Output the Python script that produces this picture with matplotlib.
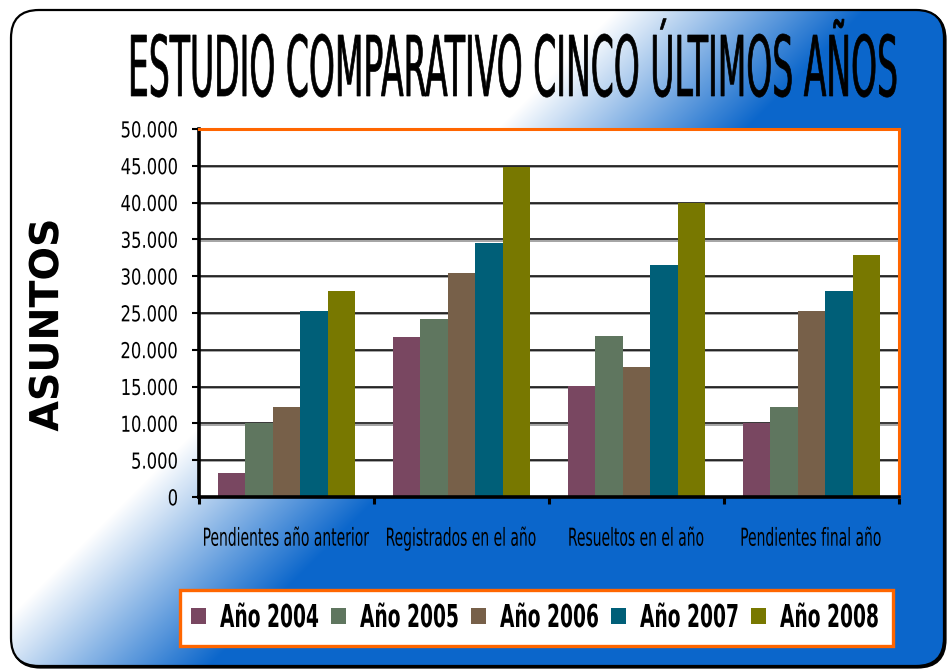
import numpy as np
import matplotlib
matplotlib.use('Agg')
import matplotlib.pyplot as plt
from matplotlib import font_manager
from matplotlib.font_manager import FontProperties
from matplotlib.textpath import TextPath
from matplotlib.transforms import Affine2D
from matplotlib.patches import FancyBboxPatch, Rectangle
from matplotlib.patheffects import AbstractPathEffect, SimpleLineShadow, Normal

DPI = 100
W, H = 947, 671

# datos
categories = ['Pendientes año anterior', 'Registrados en el año',
              'Resueltos en el año', 'Pendientes final año']
years = ['Año 2004', 'Año 2005', 'Año 2006', 'Año 2007', 'Año 2008']
v2004 = [3200, 21700, 15100, 10000]
v2005 = [10000, 24200, 21900, 12200]
v2006 = [12200, 30400, 17600, 25250]
v2007 = [25250, 34500, 31500, 27950]
v2008 = [27950, 44900, 40000, 32900]
values = [v2004, v2005, v2006, v2007, v2008]
colors = ['#794761', '#5f765f', '#776049', '#005f78', '#787800']
yticks = [0, 5000, 10000, 15000, 20000, 25000, 30000, 35000, 40000, 45000, 50000]
ylabels = ['0', '5.000', '10.000', '15.000', '20.000', '25.000',
           '30.000', '35.000', '40.000', '45.000', '50.000']
title = 'ESTUDIO COMPARATIVO CINCO ÚLTIMOS AÑOS'
ylabel = 'ASUNTOS'

ORANGE = '#ff6600'
BLUE = np.array([11, 102, 203]) / 255


class StretchY(AbstractPathEffect):
    # letras altas y estrechas: estira el glifo en vertical alrededor de y0 (en em)
    def __init__(self, sy, y0=0.0, lw=0.0):
        super().__init__()
        self.sy = sy
        self.y0 = y0 * 100   # los paths de texto se generan a tamaño 100
        self.lw = lw

    def draw_path(self, renderer, gc, tpath, affine, rgbFace=None):
        t = Affine2D().translate(0, -self.y0).scale(1, self.sy).translate(0, self.y0)
        gc0 = renderer.new_gc()
        gc0.copy_properties(gc)
        gc0.set_linewidth(self.lw)
        gc0.set_joinstyle('miter')
        renderer.draw_path(gc0, tpath, t + affine, rgbFace)
        gc0.restore()


def fit(s, width_px, cap_px, **font):
    # tamaño para que s mida width_px de ancho, y estiramiento para altura cap_px
    fp = FontProperties(**font)
    w = TextPath((0, 0), s, size=1, prop=fp).get_extents().width
    c = TextPath((0, 0), 'E', size=1, prop=fp).get_extents().height
    em = width_px / w
    return em * 72 / DPI, cap_px / (c * em), c / 2


ttf = font_manager.fontManager.ttflist
if any(f.name == 'Liberation Sans Narrow' for f in ttf):
    narrow = dict(family='Liberation Sans Narrow')
elif any(f.name == 'DejaVu Sans' and f.stretch == 'condensed' for f in ttf):
    narrow = dict(family='DejaVu Sans', stretch='condensed')
else:
    narrow = dict(family='DejaVu Sans')

fig = plt.figure(figsize=(W / DPI, H / DPI), dpi=DPI, facecolor='white')

# fondo: rectangulo redondeado con degradado blanco -> azul
bg = fig.add_axes([0, 0, 1, 1])
bg.set_xlim(0, W)
bg.set_ylim(H, 0)
bg.set_axis_off()
yy, xx = np.mgrid[0:H, 0:W]
mid = 690 - 1.0 * (yy - 60)
t = np.clip((xx - mid) / 250 + 0.5, 0, 1)[..., None]
img = (1 - t) * np.ones(3) + t * BLUE
shadow = FancyBboxPatch((12.5, 11.5), 933, 656, boxstyle='round,pad=0,rounding_size=28',
                        fc='black', ec='black', lw=1.6)
bg.add_patch(shadow)
frame = FancyBboxPatch((11, 10), 933, 656, boxstyle='round,pad=0,rounding_size=28',
                       fc='none', ec='black', lw=1.6, zorder=3)
bg.add_patch(frame)
im = bg.imshow(img, extent=(0, W, H, 0), aspect='auto', zorder=2)
im.set_clip_path(frame)

fs, sy, c2 = fit(title, 765, 61, **narrow)
bg.text(513.5, 96, title, ha='center', va='baseline', fontsize=fs, color='black',
        path_effects=[StretchY(sy, 0, lw=0.5)], zorder=4, **narrow)

fs, sy, c2 = fit(ylabel, 210, 29, family='DejaVu Sans', weight='bold')
bg.text(47, 325, ylabel, rotation=90, ha='center', va='center', fontsize=fs,
        family='DejaVu Sans', weight='bold', path_effects=[StretchY(sy, c2)], zorder=4)

# leyenda
bg.add_patch(Rectangle((180, 590), 713, 56, fc='white', ec=ORANGE, lw=2.4, zorder=4))
fs, sy, c2 = fit('Año 2004', 98, 23, weight='bold', **narrow)
for i, (name, col) in enumerate(zip(years, colors)):
    x0 = 191 + 140 * i
    bg.add_patch(Rectangle((x0, 608), 15, 16, fc=col, ec='none', zorder=5))
    bg.text(x0 + 29, 627, name, ha='left', va='baseline', fontsize=fs, weight='bold',
            path_effects=[StretchY(sy, 0)], zorder=5, **narrow)

# grafico de barras
ax = fig.add_axes([199 / W, 1 - 497 / H, 700 / W, 368 / H])
ax.set_facecolor('white')
x = np.arange(len(categories))
bw = 0.157
for j, (vals, col, name) in enumerate(zip(values, colors, years)):
    ax.bar(x + (j - 2) * bw, vals, bw, color=col, label=name, zorder=2)

ax.set_xlim(-0.5, 3.5)
ax.set_ylim(0, 50000)
ax.set_axisbelow(True)
ax.yaxis.grid(True, color='black', linewidth=1.1,
              path_effects=[SimpleLineShadow(offset=(0, -0.8), shadow_color='#8c8c8c', alpha=1),
                            Normal()])

fs, sy, c2 = fit('50.000', 55, 16, **narrow)
ax.set_yticks(yticks, ylabels, fontsize=fs, path_effects=[StretchY(sy, c2)], **narrow)
ax.tick_params(axis='y', direction='out', length=5, width=1.5, pad=10, color='black')

fs, sy, c2 = fit(categories[0], 165, 18, **narrow)
ax.set_xticks(x, categories, fontsize=fs, path_effects=[StretchY(sy, c2)], **narrow)
ax.set_xticks([-0.5, 0.5, 1.5, 2.5, 3.5], minor=True)
ax.tick_params(axis='x', which='major', length=0, pad=24)
ax.tick_params(axis='x', which='minor', direction='out', length=5, width=2.2, color='black')

for side in ['left', 'bottom']:
    ax.spines[side].set_color('black')
    ax.spines[side].set_linewidth(2.6)
for side in ['top', 'right']:
    ax.spines[side].set_color(ORANGE)
    ax.spines[side].set_linewidth(2.2)

fig.savefig('out.png', dpi=DPI)
